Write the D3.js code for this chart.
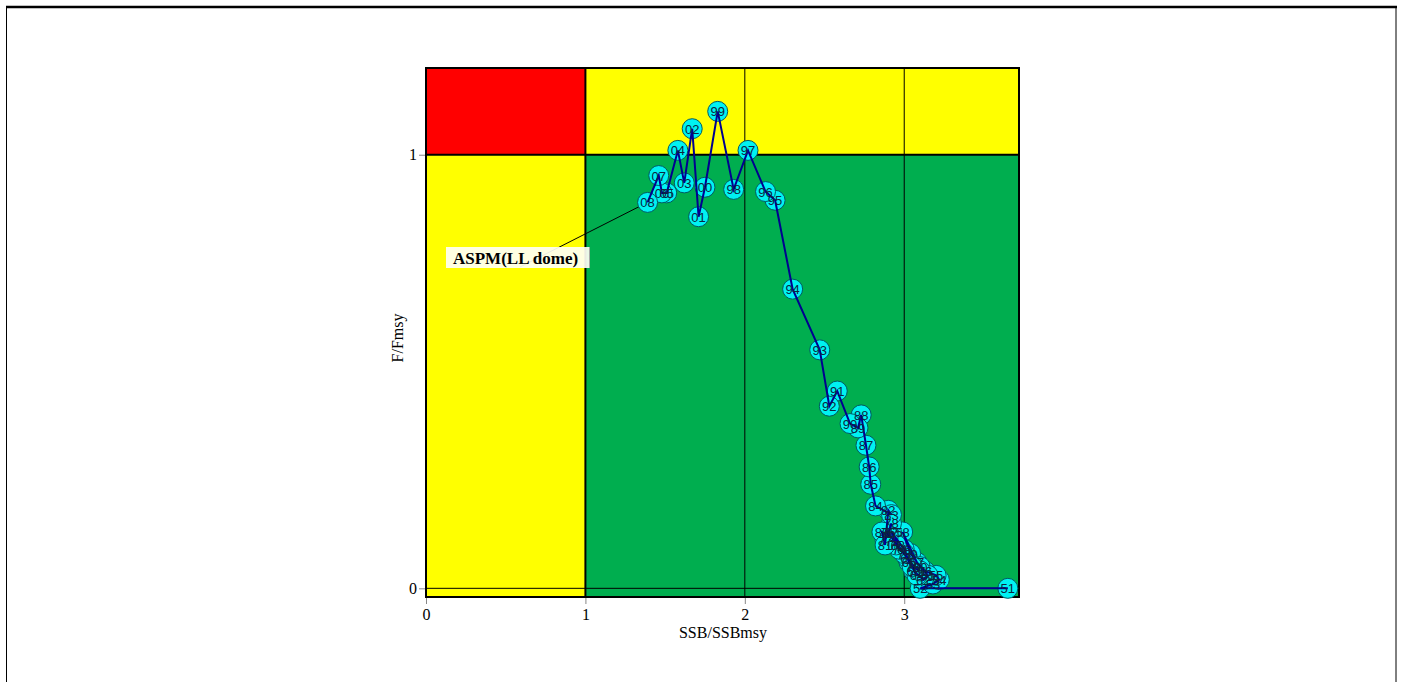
<!DOCTYPE html>
<html>
<head>
<meta charset="utf-8">
<script src="https://cdn.jsdelivr.net/npm/d3@7"></script>
<style>
  html, body { margin: 0; padding: 0; background: #fff; }
  svg { display: block; }
</style>
</head>
<body>
<svg id="chart" width="1403" height="682"></svg>
<script>
// ---- Data ----
const years = ["51","52","53","54","55","56","57","58","59","60","61","62","63","64","65","66","67","68","69","70",
  "71","72","73","74","75","76","77","78","79","80","81","82","83","84","85","86","87","88","89","90",
  "91","92","93","94","95","96","97","98","99","00","01","02","03","04","05","06","07","08"];
const ssbRatio = [3.65,3.10,3.18,3.22,3.20,3.13,3.08,2.99,3.04,3.10,3.15,3.12,3.06,3.08,3.03,3.00,2.92,2.96,3.02,3.06,
  3.10,3.05,3.00,2.97,2.95,2.90,2.88,2.92,2.90,2.86,2.88,2.90,2.92,2.82,2.79,2.78,2.76,2.73,2.71,2.66,
  2.58,2.53,2.47,2.30,2.19,2.13,2.02,1.93,1.83,1.75,1.71,1.67,1.62,1.58,1.51,1.48,1.46,1.39];
const fRatio = [0.00,0.00,0.01,0.02,0.03,0.04,0.06,0.13,0.08,0.05,0.03,0.02,0.04,0.03,0.06,0.09,0.13,0.10,0.07,0.05,
  0.04,0.05,0.08,0.09,0.10,0.13,0.11,0.15,0.12,0.13,0.10,0.18,0.17,0.19,0.24,0.28,0.33,0.40,0.37,0.38,
  0.455,0.42,0.55,0.69,0.895,0.915,1.01,0.92,1.10,0.925,0.857,1.06,0.935,1.01,0.912,0.912,0.952,0.89];
const xTicks = [0, 1, 2, 3];
const yTicks = [0, 1];
const seriesName = "ASPM(LL dome)";
const xTitle = "SSB/SSBmsy";
const yTitle = "F/Fmsy";

// ---- Layout ----
const svg = d3.select("#chart");
const L = 426, R = 1019, T = 68, B = 597;
const x = d3.scaleLinear().domain([0, 3.72]).range([L, R]);
const y = d3.scaleLinear().domain([-0.02, 1.2]).range([B, T]);
const serif = "'Liberation Serif','Times New Roman',serif";

// outer frame
svg.append("rect").attr("x", 6.5).attr("y", 7).attr("width", 1389.5).attr("height", 690)
  .attr("fill", "none").attr("stroke", "#000").attr("stroke-width", 1);
svg.append("line").attr("x1", 6).attr("x2", 1397).attr("y1", 7).attr("y2", 7)
  .attr("stroke", "#000").attr("stroke-width", 2.5);

// zones
const zones = [
  {x0: 0, x1: 1, y0: 1, y1: 1.2, c: "#ff0000"},
  {x0: 1, x1: 3.72, y0: 1, y1: 1.2, c: "#ffff00"},
  {x0: 0, x1: 1, y0: -0.02, y1: 1, c: "#ffff00"},
  {x0: 1, x1: 3.72, y0: -0.02, y1: 1, c: "#00ae4f"}
];
svg.selectAll("rect.zone").data(zones).join("rect").attr("class", "zone")
  .attr("x", d => x(d.x0)).attr("y", d => y(d.y1))
  .attr("width", d => x(d.x1) - x(d.x0)).attr("height", d => y(d.y0) - y(d.y1))
  .attr("fill", d => d.c);

// reference lines
svg.selectAll("line.vg").data([2, 3]).join("line").attr("class", "vg")
  .attr("x1", d => x(d)).attr("x2", d => x(d)).attr("y1", T).attr("y2", B)
  .attr("stroke", "#000").attr("stroke-width", 1);
svg.append("line").attr("x1", L).attr("x2", R).attr("y1", y(0)).attr("y2", y(0))
  .attr("stroke", "#000").attr("stroke-width", 1);
svg.append("line").attr("x1", x(1)).attr("x2", x(1)).attr("y1", T).attr("y2", B)
  .attr("stroke", "#000").attr("stroke-width", 2);
svg.append("line").attr("x1", L).attr("x2", R).attr("y1", y(1)).attr("y2", y(1))
  .attr("stroke", "#000").attr("stroke-width", 2);

// border
svg.append("rect").attr("x", L).attr("y", T).attr("width", R - L).attr("height", B - T)
  .attr("fill", "none").attr("stroke", "#000").attr("stroke-width", 2);

// axes
const xAxis = svg.append("g").attr("transform", `translate(0,${B + 1})`)
  .call(d3.axisBottom(x).tickValues(xTicks).tickFormat(d3.format("d")).tickSize(6).tickSizeOuter(0));
const yAxis = svg.append("g").attr("transform", `translate(${L - 1},0)`)
  .call(d3.axisLeft(y).tickValues(yTicks).tickFormat(d3.format("d")).tickSize(6).tickSizeOuter(0));
[xAxis, yAxis].forEach(g => {
  g.select(".domain").remove();
  g.selectAll(".tick line").attr("stroke", "#888");
  g.selectAll(".tick text").attr("font-family", serif).attr("font-size", 16).attr("fill", "#000");
});
xAxis.selectAll(".tick text").attr("dy", "0.9em").attr("y", 8);
yAxis.selectAll(".tick text").attr("x", -8);

svg.append("text").attr("x", 723).attr("y", 638).attr("text-anchor", "middle")
  .attr("font-family", serif).attr("font-size", 16).text(xTitle);
svg.append("text").attr("transform", `translate(403,338) rotate(-90)`)
  .attr("text-anchor", "middle").attr("font-family", serif).attr("font-size", 16).text(yTitle);

// data
const pts = years.map((yr, i) => ({yr, sx: ssbRatio[i], fy: fRatio[i]}));

// series label + leader
const last = pts[pts.length - 1];
svg.append("line").attr("x1", 520).attr("y1", 267).attr("x2", x(last.sx) - 8).attr("y2", y(last.fy) + 4)
  .attr("stroke", "#000").attr("stroke-width", 1);
svg.append("rect").attr("x", 446).attr("y", 247).attr("width", 143).attr("height", 21)
  .attr("fill", "#fffff4").attr("fill-opacity", 0.92);
svg.append("line").attr("x1", 589.5).attr("x2", 589.5).attr("y1", 247).attr("y2", 268)
  .attr("stroke", "#aaa").attr("stroke-width", 1);
svg.append("text").attr("x", 453).attr("y", 264).attr("font-family", serif)
  .attr("font-weight", "bold").attr("font-size", 17).attr("fill", "#000").text(seriesName);

// markers
svg.selectAll("circle.pt").data(pts).join("circle").attr("class", "pt")
  .attr("cx", d => x(d.sx)).attr("cy", d => y(d.fy)).attr("r", 10)
  .attr("fill", "#00f2f2").attr("stroke", "#005a64").attr("stroke-width", 1);

// trajectory
const line = d3.line().x(d => x(d.sx)).y(d => y(d.fy));
svg.append("path").datum(pts).attr("d", line).attr("fill", "none")
  .attr("stroke", "#000090").attr("stroke-width", 2);

// year labels
svg.selectAll("text.yr").data(pts).join("text").attr("class", "yr")
  .attr("x", d => x(d.sx)).attr("y", d => y(d.fy) + 5).attr("text-anchor", "middle")
  .attr("font-family", "'Liberation Sans',Arial,sans-serif").attr("font-size", 13)
  .attr("fill", "#0c2440").text(d => d.yr);
</script>
</body>
</html>
